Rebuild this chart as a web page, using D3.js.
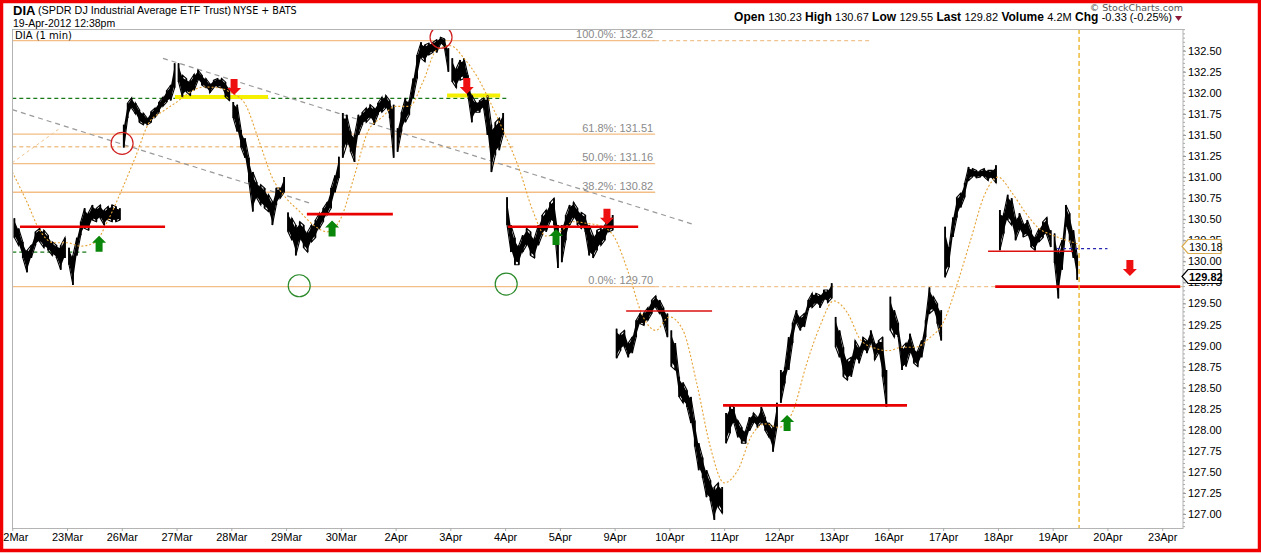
<!DOCTYPE html>
<html><head><meta charset="utf-8">
<script src="https://cdn.jsdelivr.net/npm/d3@7"></script>
<style>body{margin:0;background:#fff}svg{display:block;font-family:Arial,"Liberation Sans",sans-serif}</style>
</head><body><svg id="c" width="1261" height="553"></svg>
<script>
// ---------- DATA ----------
const sessions = ["22Mar","23Mar","26Mar","27Mar","28Mar","29Mar","30Mar","2Apr","3Apr","4Apr","5Apr","9Apr","10Apr","11Apr","12Apr","13Apr","16Apr","17Apr","18Apr","19Apr","20Apr","23Apr"];
const sessionMinutes = 390, lastSessionMinutes = 188; // 19-Apr 12:38pm
const yTicks = [127.00,127.25,127.50,127.75,128.00,128.25,128.50,128.75,129.00,129.25,129.50,129.75,130.00,130.25,130.50,130.75,131.00,131.25,131.50,131.75,132.00,132.25,132.50];

// 1-min price ranges [high, low], sampled through each session
const d22Mar = [[130.51,130.28],[130.39,130.19],[130.23,130.04],[130.13,129.87],[130.19,130.04],[130.35,130.19],[130.39,130.23],[130.37,130.16],[130.31,130.13],[130.23,130.07],[130.19,130.04],[130.19,129.90],[130.28,130.04]];
const d23Mar = [[130.16,129.96],[130.07,129.72],[130.28,130.07],[130.47,130.31],[130.63,130.39],[130.58,130.37],[130.67,130.49],[130.63,130.47],[130.67,130.51],[130.61,130.43],[130.65,130.49],[130.67,130.47],[130.65,130.47],[130.63,130.49]];
const d26Mar = [[131.62,131.35],[131.88,131.70],[131.94,131.82],[131.88,131.75],[131.80,131.65],[131.76,131.62],[131.70,131.62],[131.78,131.65],[131.82,131.71],[131.89,131.77],[131.95,131.84],[132.03,131.89],[132.09,131.91],[132.35,132.06]];
const d27Mar = [[132.35,132.13],[132.21,131.95],[132.17,132.01],[132.15,131.97],[132.22,132.03],[132.27,132.15],[132.21,132.09],[132.17,132.06],[132.11,132.00],[132.15,132.06],[132.17,132.07],[132.17,132.06],[132.13,131.95],[132.06,131.91]];
const d28Mar = [[131.89,131.70],[131.86,131.54],[131.56,131.35],[131.46,131.23],[131.23,130.94],[131.06,130.59],[130.94,130.75],[130.91,130.67],[130.87,130.63],[130.79,130.59],[130.71,130.43],[130.87,130.67],[130.87,130.75],[131.00,130.82]];
const d29Mar = [[130.58,130.35],[130.51,130.25],[130.43,130.07],[130.47,130.25],[130.43,130.16],[130.35,130.11],[130.43,130.23],[130.49,130.28],[130.57,130.39],[130.63,130.47],[130.70,130.55],[130.87,130.63],[131.02,130.82],[131.24,130.99]];
const d30Mar = [[131.76,131.23],[131.74,131.38],[131.54,131.30],[131.50,131.18],[131.74,131.50],[131.77,131.62],[131.82,131.65],[131.86,131.70],[131.82,131.62],[131.88,131.74],[131.95,131.77],[131.97,131.82],[131.91,131.70],[131.86,131.23]];
const d2Apr  = [[131.58,131.30],[131.77,131.54],[131.94,131.65],[131.91,131.74],[132.17,131.94],[132.45,132.17],[132.60,132.41],[132.57,132.37],[132.59,132.45],[132.60,132.48],[132.63,132.48],[132.66,132.58],[132.64,132.53],[132.53,132.25]];
const d3Apr  = [[132.41,132.13],[132.29,132.06],[132.39,132.15],[132.41,132.17],[132.21,131.97],[131.97,131.65],[131.89,131.77],[131.91,131.77],[131.94,131.82],[131.97,131.50],[131.62,131.06],[131.65,131.26],[131.70,131.32],[131.76,131.50]];
const d4Apr  = [[130.76,130.43],[130.43,130.11],[130.28,129.96],[130.19,129.96],[130.31,130.11],[130.39,130.19],[130.35,130.07],[130.28,130.04],[130.43,130.19],[130.55,130.31],[130.61,130.35],[130.70,130.47],[130.75,130.43],[130.43,129.92]];
const d5Apr  = [[130.43,129.99],[130.55,130.25],[130.67,130.43],[130.70,130.51],[130.63,130.43],[130.58,130.39],[130.55,130.35],[130.43,130.07],[130.31,130.04],[130.37,130.13],[130.39,130.19],[130.43,130.25],[130.51,130.35],[130.55,130.37]];
const d9Apr  = [[129.20,128.85],[129.14,128.94],[129.18,128.98],[129.03,128.86],[129.10,128.91],[129.30,129.10],[129.38,129.26],[129.39,129.24],[129.45,129.30],[129.54,129.38],[129.59,129.45],[129.54,129.38],[129.45,129.26],[129.38,129.10]];
const d10Apr = [[129.18,128.75],[129.03,128.71],[128.63,128.39],[128.56,128.32],[128.47,128.27],[128.39,128.08],[128.11,127.80],[127.84,127.52],[127.67,127.43],[127.52,127.20],[127.40,127.16],[127.32,126.93],[127.37,127.08],[127.32,127.01]];
const d11Apr = [[128.20,127.84],[128.29,127.96],[128.27,128.08],[128.11,127.91],[128.03,127.84],[127.99,127.84],[128.15,127.99],[128.20,128.08],[128.15,128.03],[128.27,128.08],[128.15,127.99],[128.08,127.91],[128.03,127.74],[128.32,128.03]];
const d12Apr = [[128.71,128.32],[128.74,128.55],[129.10,128.71],[129.27,129.03],[129.42,129.27],[129.34,129.18],[129.38,129.22],[129.54,129.42],[129.62,129.45],[129.62,129.50],[129.60,129.45],[129.66,129.54],[129.66,129.51],[129.74,129.56]];
const d13Apr = [[129.34,128.98],[129.18,128.86],[128.98,128.63],[128.83,128.59],[128.86,128.63],[129.06,128.83],[128.98,128.79],[129.10,128.94],[129.06,128.91],[129.18,129.03],[129.03,128.83],[129.06,128.91],[129.10,128.63],[128.71,128.27]];
const d16Apr = [[129.58,129.18],[129.42,129.10],[129.27,129.10],[128.98,128.71],[129.03,128.75],[129.14,128.91],[128.98,128.79],[128.94,128.75],[129.06,128.86],[129.30,129.10],[129.69,129.38],[129.58,129.42],[129.50,129.26],[129.42,129.06]];
const d17Apr = [[130.41,129.81],[130.17,129.93],[130.52,130.29],[130.76,130.52],[130.81,130.64],[130.93,130.76],[131.12,130.96],[131.10,131.00],[131.08,130.99],[131.08,131.00],[131.10,131.00],[131.08,130.96],[131.08,130.99],[131.14,130.93]];
const d18Apr = [[130.61,130.13],[130.57,130.33],[130.79,130.49],[130.75,130.43],[130.52,130.25],[130.57,130.37],[130.45,130.29],[130.49,130.31],[130.37,130.17],[130.29,130.13],[130.39,130.23],[130.47,130.28],[130.52,130.31],[130.37,130.17]];
const d19Apr = [[130.33,129.98],[130.13,129.56],[130.25,129.90],[130.67,130.41],[130.57,130.25],[130.37,130.04],[130.07,129.78]];
const priceSessions = [d22Mar,d23Mar,d26Mar,d27Mar,d28Mar,d29Mar,d30Mar,d2Apr,d3Apr,d4Apr,d5Apr,d9Apr,d10Apr,d11Apr,d12Apr,d13Apr,d16Apr,d17Apr,d18Apr,d19Apr];

// moving average, one value every quarter session
const maStep = 0.25;
const maValues = [131.06,130.73,130.37,130.22,130.22,130.18,130.22,130.49,130.85,131.24,
131.65,131.78,131.89,132.01,132.07,132.06,132.00,131.87,131.44,130.99,
130.75,130.59,130.43,130.35,130.51,131.02,131.55,131.71,131.84,131.84,
132.13,132.51,132.56,132.41,132.18,131.86,131.50,131.11,130.61,130.30,
130.35,130.47,130.45,130.42,130.28,129.87,129.37,129.18,129.34,129.18,
128.55,127.79,127.37,127.52,127.93,128.07,128.03,128.21,128.77,129.23,
129.53,129.39,129.06,128.97,128.94,128.98,128.98,129.09,129.27,129.72,
130.25,130.78,131.00,130.82,130.58,130.39,130.31,130.25,130.20];

// Fibonacci retracement
const fibPct = ["100.0%","61.8%","50.0%","38.2%","0.0%"];
const fibLevels = [132.62,131.51,131.16,130.82,129.70];
const fibEnd = 11.74;

// annotation lines [fromSession, toSession, price]
const redThick = [[0.14,2.79,130.41],[5.38,6.95,130.56],[9.05,11.43,130.41],[12.98,16.34,128.29],[17.95,21.33,129.70]];
const redThin = [[11.21,12.78,129.41],[17.82,19.37,130.12]];
const blueDashed = [[19.08,20.0,130.15]];
const greenDashed = [[0,9.04,131.935],[0,1.38,130.11]];
const yellowBands = [[2.97,4.67,131.95],[7.94,8.91,131.97]];
const tanDashed = [[0,9.15,131.36],[fibEnd,15.67,132.62],[fibEnd,21.38,129.70]];
const grayTrend = [[2.752,132.41,12.43,130.44],[0,131.80,5.44,130.69]];
const tanTrend = [[0,131.17,0.87,131.58]];
const redCircles = [[2.005,131.40],[7.83,132.66]];
const greenCircles = [[5.24,129.71],[9.02,129.73]];
const upArrows = [[1.585,130.21],[5.84,130.39],[9.93,130.29],[14.15,128.08]];
const downArrows = [[4.05,132.07],[8.30,132.08],[10.86,130.53],[20.41,129.92]];
const maLast = 130.18, lastPrice = 129.82;
const quote = [["Open","130.23"],["High","130.67"],["Low","129.55"],["Last","129.82"],["Volume","4.2M"],["Chg","-0.33 (-0.25%)"]];

// ---------- DRAW ----------
const svg = d3.select("#c");
const L = 12.3, R = 1183, T = 29, B = 528;
const x = d3.scaleLinear().domain([0, 21.38]).range([L, R]);
const y = d3.scaleLinear().domain([126.834, 132.758]).range([B, T]);
const nowT = (sessions.indexOf("19Apr")) + lastSessionMinutes / sessionMinutes;
const AR = "Arial, 'Liberation Sans', sans-serif", DV = "'DejaVu Sans', Verdana, sans-serif";

svg.append("rect").attr("x",0).attr("y",0).attr("width",1261).attr("height",553).attr("fill","#fff");
const defs = svg.append("defs");
defs.append("clipPath").attr("id","pc").append("rect").attr("x",L).attr("y",T).attr("width",R-L).attr("height",B-T);

// header
svg.append("text").attr("x",13).attr("y",15).attr("font-size",13).attr("font-weight","bold").text("DIA");
svg.append("text").attr("x",38).attr("y",14).attr("font-size",10.8).text("(SPDR DJ Industrial Average ETF Trust)");
svg.append("text").attr("x",233).attr("y",14).attr("font-size",9.6).attr("font-family",DV).text("NYSE + BATS");
svg.append("text").attr("x",13).attr("y",27).attr("font-size",10.5).text("19-Apr-2012 12:38pm");
svg.append("text").attr("x",R).attr("y",11).attr("font-size",9.5).attr("font-family",DV).attr("fill","#555").attr("text-anchor","end").text("\u00A9 StockCharts.com");
const qt = svg.append("text").attr("x",1172).attr("y",21).attr("text-anchor","end");
quote.forEach(([k,v],i)=>{
  qt.append("tspan").attr("font-size",12).attr("font-weight","bold").text((i?" ":"")+k+" ");
  qt.append("tspan").attr("font-size",11).text(v);
});
svg.append("path").attr("d","M1175,16L1182,16L1178.5,21Z").attr("fill","#8b1a3a");

const g = svg.append("g");
const pc = g.append("g").attr("clip-path","url(#pc)");

// fib lines
fibLevels.forEach((lv,i)=>{
  pc.append("line").attr("x1",x(0)).attr("x2",x(fibEnd)).attr("y1",y(lv)).attr("y2",y(lv)).attr("stroke","#f3bd85").attr("stroke-width",1.3);
  g.append("text").attr("x",x(fibEnd)-2).attr("y",y(lv)-2.5).attr("text-anchor","end").attr("font-size",11).attr("fill","#8a8a8a").text(fibPct[i]+": "+lv.toFixed(2));
});
tanDashed.forEach(([a,b,p])=>pc.append("line").attr("x1",x(a)).attr("x2",x(b)).attr("y1",y(p)).attr("y2",y(p)).attr("stroke","#f0c490").attr("stroke-width",1.3).attr("stroke-dasharray","4,3"));
tanTrend.forEach(([a,p,b,q])=>pc.append("line").attr("x1",x(a)).attr("x2",x(b)).attr("y1",y(p)).attr("y2",y(q)).attr("stroke","#f0c490").attr("stroke-dasharray","3,3"));
greenDashed.forEach(([a,b,p])=>pc.append("line").attr("x1",x(a)).attr("x2",x(b)).attr("y1",y(p)).attr("y2",y(p)).attr("stroke","#1a7a1a").attr("stroke-width",1.2).attr("stroke-dasharray","4,3"));
yellowBands.forEach(([a,b,p])=>pc.append("line").attr("x1",x(a)).attr("x2",x(b)).attr("y1",y(p)).attr("y2",y(p)).attr("stroke","#f4f000").attr("stroke-width",4));
grayTrend.forEach(([a,p,b,q])=>pc.append("line").attr("x1",x(a)).attr("x2",x(b)).attr("y1",y(p)).attr("y2",y(q)).attr("stroke","#999").attr("stroke-width",1.2).attr("stroke-dasharray","5,4"));

// now line
g.append("line").attr("x1",x(nowT)).attr("x2",x(nowT)).attr("y1",T).attr("y2",B).attr("stroke","#ebb21e").attr("stroke-width",1.3).attr("stroke-dasharray","5,3");

// price bars: dense band of 1-min ranges
priceSessions.forEach((bars,k)=>{
  const span = k === priceSessions.length-1 ? lastSessionMinutes/sessionMinutes : 1;
  const n = bars.length;
  const pts = [], rows = [];
  bars.forEach(([hi,lo],i)=>{
    const t = k + span*(i+0.5)/n;
    rows.push({t,hi,lo});
    if (i%2===0){pts.push([t,hi]);pts.push([t,lo]);} else {pts.push([t,lo]);pts.push([t,hi]);}
    pc.append("line").attr("x1",x(t)).attr("x2",x(t)).attr("y1",y(hi)).attr("y2",y(lo)).attr("stroke","#000").attr("stroke-width",1.8);
  });
  const mid = rows.map(r=>({t:r.t, hi:r.hi-(r.hi-r.lo)*0.12, lo:r.lo+(r.hi-r.lo)*0.12}));
  pc.append("path").attr("d",d3.area().x(d=>x(d.t)).y0(d=>y(d.lo)).y1(d=>y(d.hi))(mid)).attr("fill","#000");
  pc.append("path").attr("d",d3.line().x(d=>x(d[0])).y(d=>y(d[1]))(pts)).attr("fill","none").attr("stroke","#000").attr("stroke-width",1.1);
});

// moving average
pc.append("path").attr("d",d3.line().x((d,i)=>x(i*maStep)).y(d=>y(d)).curve(d3.curveMonotoneX)(maValues))
  .attr("fill","none").attr("stroke","#e5a234").attr("stroke-width",1.1).attr("stroke-dasharray","2,2");

// red / blue lines
redThick.forEach(([a,b,p])=>pc.append("line").attr("x1",x(a)).attr("x2",x(b)).attr("y1",y(p)).attr("y2",y(p)).attr("stroke","#e80000").attr("stroke-width",2.6));
redThin.forEach(([a,b,p])=>pc.append("line").attr("x1",x(a)).attr("x2",x(b)).attr("y1",y(p)).attr("y2",y(p)).attr("stroke","#dd1010").attr("stroke-width",1.5));
blueDashed.forEach(([a,b,p])=>pc.append("line").attr("x1",x(a)).attr("x2",x(b)).attr("y1",y(p)).attr("y2",y(p)).attr("stroke","#2424b0").attr("stroke-width",1.3).attr("stroke-dasharray","3,3"));

// circles
redCircles.forEach(([t,p])=>pc.append("circle").attr("cx",x(t)).attr("cy",y(p)).attr("r",11).attr("fill","none").attr("stroke","#d02020").attr("stroke-width",1.2));
greenCircles.forEach(([t,p])=>pc.append("circle").attr("cx",x(t)).attr("cy",y(p)).attr("r",11).attr("fill","none").attr("stroke","#2a8a2a").attr("stroke-width",1.2));

// arrows
const upPath = "M0,-8L7,-1L3.5,-1L3.5,8L-3.5,8L-3.5,-1L-7,-1Z";
const downPath = "M0,8L7,1L3.5,1L3.5,-8L-3.5,-8L-3.5,1L-7,1Z";
upArrows.forEach(([t,p])=>pc.append("path").attr("d",upPath).attr("transform",`translate(${x(t)},${y(p)})`).attr("fill","#0a860a"));
downArrows.forEach(([t,p])=>pc.append("path").attr("d",downPath).attr("transform",`translate(${x(t)},${y(p)})`).attr("fill","#ee1010"));

// frame
g.append("rect").attr("x",12.5).attr("y",T+0.5).attr("width",R-12.5).attr("height",B-T).attr("fill","none").attr("stroke","#b4b4b4");
g.append("text").attr("x",15).attr("y",39).attr("font-size",10).attr("font-family",DV).text("DIA (1 min)");

// right axis
const minor = d3.range(126.85, 132.76, 0.05);
g.selectAll(".mt").data(minor).enter().append("line").attr("x1",R).attr("x2",R+2).attr("y1",d=>y(d)).attr("y2",d=>y(d)).attr("stroke","#aaa");
const ya = g.append("g").attr("transform",`translate(${R},0)`).call(d3.axisRight(y).tickValues(yTicks).tickFormat(d3.format(".2f")).tickSize(3).tickPadding(2));
ya.select(".domain").remove();
ya.selectAll("line").attr("stroke","#999");
ya.selectAll("text").attr("font-size",11).attr("font-family",AR).attr("fill","#000");

// bottom axis
const xa = g.append("g").attr("transform",`translate(0,${B})`).call(d3.axisBottom(x).tickValues(d3.range(sessions.length)).tickFormat(i=>sessions[i]).tickSize(3).tickPadding(2));
xa.select(".domain").remove();
xa.selectAll("line").attr("stroke","#aaa");
xa.selectAll("text").attr("font-size",11).attr("font-family",AR).attr("fill","#000");

// price tags
function tag(v, stroke, bold){
  const cy = Math.round(y(v))+0.5;
  g.append("path").attr("d",`M${R-1},${cy}L${R+5},${cy-7}L${R+38},${cy-7}L${R+38},${cy+7}L${R+5},${cy+7}Z`).attr("fill","#fff").attr("stroke",stroke).attr("stroke-width",1.2);
  g.append("text").attr("x",R+6).attr("y",cy+4).attr("font-size",11).attr("font-weight",bold?"bold":"normal").text(v.toFixed(2));
}
tag(maLast,"#d8ac50",false);
tag(lastPrice,"#000",true);

// outer red border
svg.append("rect").attr("x",1.5).attr("y",1.5).attr("width",1258).attr("height",549).attr("fill","none").attr("stroke","#f00000").attr("stroke-width",3.5);
</script></body></html>
